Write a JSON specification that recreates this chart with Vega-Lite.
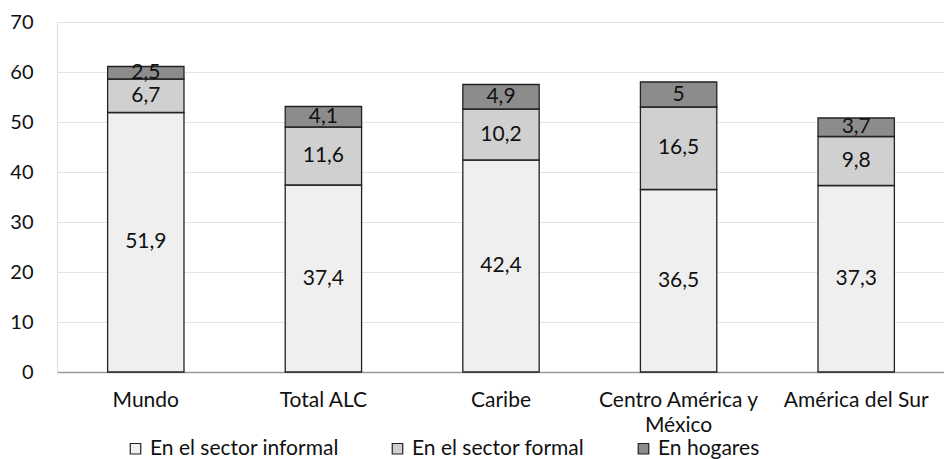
{
  "$schema": "https://vega.github.io/schema/vega-lite/v6.json",
  "width": 888,
  "height": 350,
  "autosize": {"type": "none"},
  "padding": {"left": 57, "top": 22, "right": 0, "bottom": 87},
  "background": "white",
  "config": {
    "font": "Lato",
    "locale": {"number": {"decimal": ",", "thousands": ".", "grouping": [3], "currency": ["", ""]}},
    "view": {"stroke": null}
  },
  "data": {
    "values": [
      {"region": "Mundo", "tipo": "En el sector informal", "valor": 51.9},
      {"region": "Mundo", "tipo": "En el sector formal", "valor": 6.7},
      {"region": "Mundo", "tipo": "En hogares", "valor": 2.5},
      {"region": "Total ALC", "tipo": "En el sector informal", "valor": 37.4},
      {"region": "Total ALC", "tipo": "En el sector formal", "valor": 11.6},
      {"region": "Total ALC", "tipo": "En hogares", "valor": 4.1},
      {"region": "Caribe", "tipo": "En el sector informal", "valor": 42.4},
      {"region": "Caribe", "tipo": "En el sector formal", "valor": 10.2},
      {"region": "Caribe", "tipo": "En hogares", "valor": 4.9},
      {"region": "Centro América y México", "tipo": "En el sector informal", "valor": 36.5},
      {"region": "Centro América y México", "tipo": "En el sector formal", "valor": 16.5},
      {"region": "Centro América y México", "tipo": "En hogares", "valor": 5},
      {"region": "América del Sur", "tipo": "En el sector informal", "valor": 37.3},
      {"region": "América del Sur", "tipo": "En el sector formal", "valor": 9.8},
      {"region": "América del Sur", "tipo": "En hogares", "valor": 3.7}
    ]
  },
  "transform": [
    {"calculate": "indexof(['En el sector informal','En el sector formal','En hogares'], datum.tipo)", "as": "k"}
  ],
  "encoding": {
    "x": {
      "field": "region",
      "type": "nominal",
      "sort": null,
      "scale": {"paddingInner": 0.57, "paddingOuter": 0.285},
      "axis": {
        "title": null,
        "labelAngle": 0,
        "labelFontSize": 21,
        "labelColor": "#111",
        "labelPadding": 28,
        "labelLineHeight": 25,
        "labelBaseline": "middle",
        "labelExpr": "datum.label == 'Centro América y México' ? ['Centro América y', 'México'] : datum.label",
        "ticks": false,
        "domainColor": "#999",
        "domainWidth": 1.5,
        "grid": false
      }
    },
    "y": {
      "field": "valor",
      "type": "quantitative",
      "stack": "zero",
      "scale": {"domain": [0, 70], "nice": false},
      "axis": {
        "title": null,
        "values": [0, 10, 20, 30, 40, 50, 60, 70],
        "labelFontSize": 20,
        "labelColor": "#111",
        "labelPadding": 24,
        "ticks": false,
        "domain": true,
        "domainColor": "#ddd",
        "gridColor": "#e4e4e4",
        "gridWidth": 1
      }
    },
    "order": {"field": "k", "type": "quantitative"}
  },
  "layer": [
    {
      "mark": {"type": "bar", "stroke": "#222", "strokeWidth": 1.3},
      "encoding": {
        "color": {
          "field": "tipo",
          "type": "nominal",
          "sort": ["En el sector informal", "En el sector formal", "En hogares"],
          "scale": {
            "domain": ["En el sector informal", "En el sector formal", "En hogares"],
            "range": ["#efefef", "#d0d0d0", "#8c8c8c"]
          },
          "legend": {
            "title": null,
            "orient": "none",
            "legendX": 68,
            "legendY": 416,
            "padding": 0,
            "direction": "horizontal",
            "symbolType": "square",
            "symbolSize": 110,
            "symbolStrokeColor": "#222",
            "symbolStrokeWidth": 1.2,
            "labelFontSize": 21,
            "labelColor": "#111",
            "labelOffset": 4,
            "columnPadding": 48,
            "labelLimit": 300
          }
        }
      }
    },
    {
      "mark": {"type": "text", "fontSize": 21, "color": "#111", "baseline": "middle"},
      "encoding": {
        "y": {"field": "valor", "type": "quantitative", "stack": "zero", "bandPosition": 0.5},
        "text": {"field": "valor", "type": "quantitative", "format": "~r"}
      }
    }
  ]
}
